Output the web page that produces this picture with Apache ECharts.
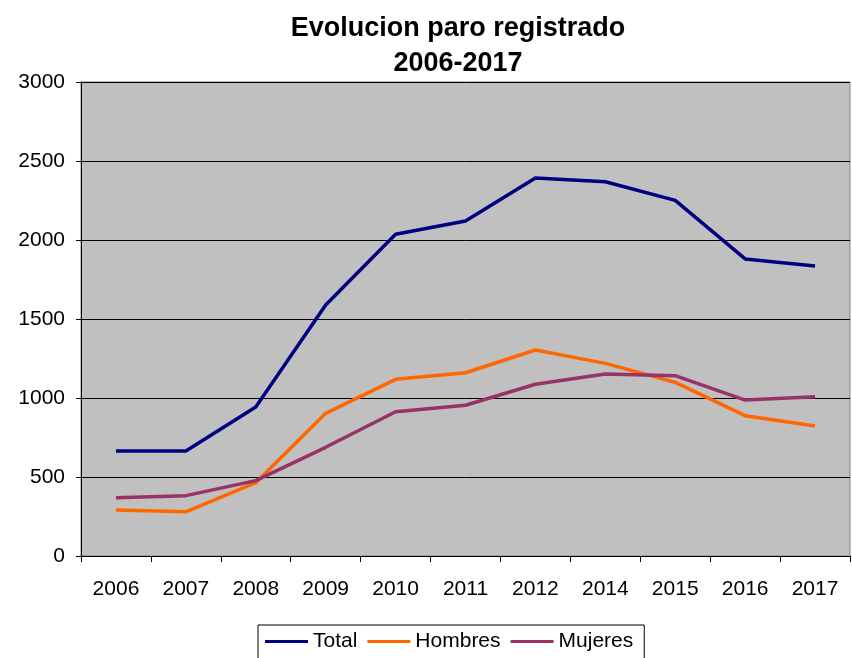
<!DOCTYPE html>
<html>
<head>
<meta charset="utf-8">
<script src="https://cdn.jsdelivr.net/npm/echarts@6/dist/echarts.min.js"></script>
<style>
html, body { margin: 0; padding: 0; background: #fff; }
#main { width: 852px; height: 658px; }
</style>
</head>
<body>
<div id="main"></div>
<script>
// years (no 2013 in the source)
var years = ['2006','2007','2008','2009','2010','2011','2012','2014','2015','2016','2017'];
var total = [664, 664, 943, 1589, 2036, 2120, 2392, 2369, 2251, 1880, 1835];
var hombres = [291, 280, 464, 903, 1118, 1160, 1304, 1219, 1099, 888, 823];
var mujeres = [369, 382, 477, 688, 913, 954, 1087, 1152, 1141, 987, 1008];

var font = 'Arial, "Liberation Sans", sans-serif';

var chart = echarts.init(document.getElementById('main'));
chart.setOption({
    animation: false,
    backgroundColor: '#ffffff',
    title: {
        text: 'Evolucion paro registrado\n2006-2017',
        left: 453,
        top: 6,
        textAlign: 'center',
        textStyle: {
            fontFamily: font,
            fontSize: 27,
            fontWeight: 'bold',
            color: '#000',
            lineHeight: 35
        }
    },
    grid: {
        left: 81,
        right: 2,
        top: 82,
        bottom: 102,
        show: true,
        backgroundColor: '#c0c0c0',
        borderColor: '#808080',
        borderWidth: 1
    },
    legend: {
        data: ['Total', 'Hombres', 'Mujeres'],
        icon: 'rect',
        left: 258,
        top: 625,
        padding: [6, 11, 14, 7],
        itemGap: 10,
        itemWidth: 43,
        itemHeight: 3,
        borderColor: '#000',
        borderWidth: 1,
        textStyle: { fontFamily: font, fontSize: 21, color: '#000' }
    },
    xAxis: {
        type: 'category',
        data: years,
        boundaryGap: true,
        axisLine: { lineStyle: { color: '#000', width: 1 } },
        axisTick: { show: true, length: 6, lineStyle: { color: '#000' } },
        axisLabel: { interval: 0, margin: 23, fontFamily: font, fontSize: 21, color: '#000' },
        splitLine: { show: false }
    },
    yAxis: {
        type: 'value',
        min: 0,
        max: 3000,
        interval: 500,
        axisLine: { show: true, lineStyle: { color: '#000', width: 1 } },
        axisTick: { show: true, length: 5, lineStyle: { color: '#000' } },
        axisLabel: {
            margin: 16, fontFamily: font, fontSize: 21, color: '#000',
            formatter: function (v) { return String(v); }
        },
        splitLine: { show: true, lineStyle: { color: '#000', width: 1 } }
    },
    series: [
        {
            name: 'Total', type: 'line', data: total, symbol: 'none',
            itemStyle: { color: '#000080' },
            lineStyle: { color: '#000080', width: 3.5 }
        },
        {
            name: 'Hombres', type: 'line', data: hombres, symbol: 'none',
            itemStyle: { color: '#ff6600' },
            lineStyle: { color: '#ff6600', width: 3.5 }
        },
        {
            name: 'Mujeres', type: 'line', data: mujeres, symbol: 'none',
            itemStyle: { color: '#993366' },
            lineStyle: { color: '#993366', width: 3.5 }
        }
    ]
});
</script>
</body>
</html>
